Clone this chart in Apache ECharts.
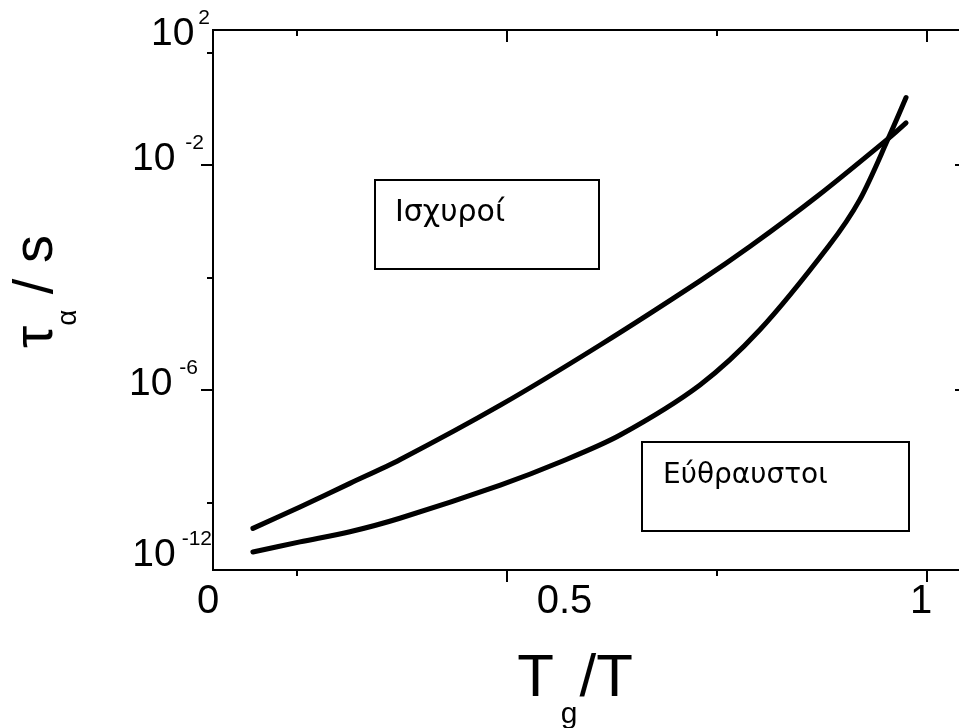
<!DOCTYPE html>
<html>
<head>
<meta charset="utf-8">
<script src="https://cdn.jsdelivr.net/npm/echarts@6/dist/echarts.min.js"></script>
<style>
  html, body { margin: 0; padding: 0; background: #fff; }
  #chart { width: 959px; height: 728px; }
</style>
</head>
<body>
<div id="chart"></div>
<script>
// Relaxation time tau_alpha versus Tg/T for a strong and a fragile glass former.
// y values are log10(tau / s).

// strong former ("Ισχυροί")
const strongX      = [0.063, 0.129, 0.199, 0.269, 0.410, 0.550, 0.690, 0.760, 0.854, 0.954, 0.979];
const strongLogTau = [-8.46, -8.08, -7.66, -7.24, -6.27, -5.20, -4.06, -3.45, -2.56, -1.53, -1.25];

// fragile former ("Εύθραυστοι")
const fragileX      = [0.063, 0.129, 0.199, 0.269, 0.410, 0.494, 0.578, 0.690, 0.774, 0.870, 0.914, 0.954, 0.979];
const fragileLogTau = [-8.88, -8.70, -8.52, -8.28, -7.69, -7.28, -6.80, -5.91, -4.93, -3.45, -2.62, -1.53, -0.80];

// axis ranges
const X_MIN = 0.007, X_MAX = 1.0645;
const Y_MIN = -9.2, Y_MAX = 0.4;

// tick marks
const xMajorTicks = [0.419, 1.008];
const xMinorTicks = [0.124, 0.713];
const yMajorTicks = [-2, -6];
const yMinorTicks = [0, -4, -8];

// tick labels
const xLabelValues = [X_MIN, 0.5, 1];
const xLabelTexts  = ['0', '0.5', '1'];
const yLabelValues = [0.222, -2, -6, -9.04];
const yLabelExps   = ['2', '-2', '-6', '-12'];

const FONT = 'Liberation Sans, Arial, sans-serif';
const BLACK = '#000';

function nearestIndex(values, v) {
  let best = 0;
  for (let i = 1; i < values.length; i++) {
    if (Math.abs(values[i] - v) < Math.abs(values[best] - v)) best = i;
  }
  return best;
}

const lineStyle = { color: BLACK, width: 2 };

function frameAxis(extra) {
  return Object.assign({
    type: 'value',
    axisLine: { show: true, onZero: false, lineStyle: lineStyle },
    splitLine: { show: false },
    axisLabel: { show: false },
    axisTick: { show: false },
    axisPointer: { show: false }
  }, extra);
}

// superscript exponent: raised by bottom padding, spaced sideways per label
const supStyle = (left, right) => ({
  fontSize: 21, fontFamily: FONT, color: BLACK, lineHeight: 21,
  padding: [0, right, 43, left]
});

const chart = echarts.init(document.getElementById('chart'), null, { renderer: 'canvas' });

chart.setOption({
  animation: false,
  backgroundColor: '#fff',
  grid: { left: 213, top: 30, width: 754, height: 540, containLabel: false, outerBoundsMode: 'none' },
  xAxis: [
    frameAxis({
      position: 'bottom', min: X_MIN, max: X_MAX,
      axisTick: { show: true, inside: false, length: 12, lineStyle: lineStyle, customValues: xMajorTicks },
      axisLabel: {
        show: true, customValues: xLabelValues, margin: 12,
        fontSize: 40, fontFamily: FONT, color: BLACK, lineHeight: 40,
        formatter: function (v) {
          const i = nearestIndex(xLabelValues, v);
          return i === 0 ? '{z|' + xLabelTexts[i] + '}' : xLabelTexts[i];
        },
        rich: { z: { fontSize: 40, fontFamily: FONT, color: BLACK, lineHeight: 40, padding: [0, 10, 0, 0] } }
      },
      name: '{T|T}{g|g}{T|/T}',
      nameLocation: 'middle',
      nameGap: 79,
      nameTextStyle: {
        padding: [0, 30, 0, 0],
        rich: {
          T: { fontSize: 60, fontFamily: FONT, color: BLACK, lineHeight: 60, verticalAlign: 'top' },
          g: { fontSize: 30, fontFamily: FONT, color: BLACK, lineHeight: 30, verticalAlign: 'top', padding: [51, 2, 0, 7] }
        }
      }
    }),
    frameAxis({
      position: 'bottom', min: X_MIN, max: X_MAX,
      axisTick: { show: true, inside: false, length: 6, lineStyle: lineStyle, customValues: xMinorTicks }
    }),
    frameAxis({
      position: 'top', min: X_MIN, max: X_MAX,
      axisTick: { show: true, inside: true, length: 12, lineStyle: lineStyle, customValues: xMajorTicks }
    }),
    frameAxis({
      position: 'top', min: X_MIN, max: X_MAX,
      axisTick: { show: true, inside: true, length: 6, lineStyle: lineStyle, customValues: xMinorTicks }
    })
  ],
  yAxis: [
    frameAxis({
      position: 'left', min: Y_MIN, max: Y_MAX,
      axisTick: { show: true, inside: false, length: 12, lineStyle: lineStyle, customValues: yMajorTicks },
      axisLabel: {
        show: true, customValues: yLabelValues, margin: 1,
        formatter: function (v) {
          const i = nearestIndex(yLabelValues, v);
          return '{b|10}{s' + i + '|' + yLabelExps[i] + '}';
        },
        rich: {
          b: { fontSize: 39, fontFamily: FONT, color: BLACK, lineHeight: 40, padding: [0, 0, 12, 0] },
          s0: supStyle(4, 2),
          s1: supStyle(10, 8),
          s2: supStyle(7, 14),
          s3: supStyle(6, 0)
        }
      },
      name: '{t|τ}{a|α}{t| / s}',
      nameLocation: 'middle',
      nameRotate: 90,
      nameGap: 144,
      nameTextStyle: {
        padding: [0, 0, 0, 17],
        rich: {
          t: { fontSize: 56, fontFamily: FONT, color: BLACK, lineHeight: 60, verticalAlign: 'top' },
          a: { fontSize: 28, fontFamily: FONT, color: BLACK, lineHeight: 28, verticalAlign: 'top', padding: [45, 0, 0, 0] }
        }
      }
    }),
    frameAxis({
      position: 'left', min: Y_MIN, max: Y_MAX,
      axisTick: { show: true, inside: false, length: 6, lineStyle: lineStyle, customValues: yMinorTicks }
    }),
    frameAxis({
      position: 'right', min: Y_MIN, max: Y_MAX,
      axisTick: { show: true, inside: true, length: 12, lineStyle: lineStyle, customValues: yMajorTicks }
    }),
    frameAxis({
      position: 'right', min: Y_MIN, max: Y_MAX,
      axisTick: { show: true, inside: true, length: 6, lineStyle: lineStyle, customValues: yMinorTicks }
    })
  ],
  series: [
    {
      name: 'Ισχυροί', type: 'line', xAxisIndex: 0, yAxisIndex: 0,
      data: strongX.map((x, i) => [x, strongLogTau[i]]),
      smooth: 0.3, showSymbol: false, symbol: 'none',
      lineStyle: { color: BLACK, width: 5, cap: 'round', join: 'round' }
    },
    {
      name: 'Εύθραυστοι', type: 'line', xAxisIndex: 0, yAxisIndex: 0,
      data: fragileX.map((x, i) => [x, fragileLogTau[i]]),
      smooth: 0.3, showSymbol: false, symbol: 'none',
      lineStyle: { color: BLACK, width: 5, cap: 'round', join: 'round' }
    }
  ],
  graphic: [
    { type: 'rect', shape: { x: 375, y: 180, width: 224, height: 89 },
      style: { fill: '#fff', stroke: BLACK, lineWidth: 2 }, z: 10 },
    { type: 'text', x: 395, y: 213, z: 11,
      style: { text: 'Ισχυροί', font: '30px "DejaVu Sans", sans-serif', fill: BLACK, verticalAlign: 'middle' } },
    { type: 'rect', shape: { x: 642, y: 442, width: 267, height: 89 },
      style: { fill: '#fff', stroke: BLACK, lineWidth: 2 }, z: 10 },
    { type: 'text', x: 663, y: 476, z: 11,
      style: { text: 'Εύθραυστοι', font: '28px "DejaVu Sans", sans-serif', fill: BLACK, verticalAlign: 'middle' } }
  ]
});
</script>
</body>
</html>
